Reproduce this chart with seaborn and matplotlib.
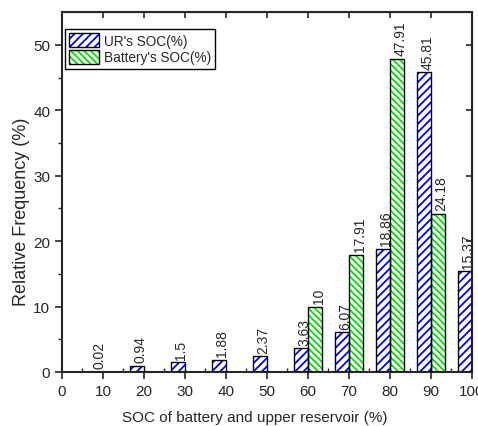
import matplotlib
matplotlib.use("Agg")
import matplotlib.pyplot as plt
import seaborn as sns
import pandas as pd
import numpy as np
from matplotlib.patches import Patch, Rectangle
from matplotlib.legend_handler import HandlerTuple

# SOC bins (%)
soc_bins = [10, 20, 30, 40, 50, 60, 70, 80, 90, 100]
ur_soc = [0.02, 0.94, 1.5, 1.88, 2.37, 3.63, 6.07, 18.86, 45.81, 15.37]
battery_soc = [0, 0, 0, 0, 0, 10, 17.91, 47.91, 24.18, 0]
series_names = ["UR's SOC(%)", "Battery's SOC(%)"]
hatch_colors = ["#0000FF", "#00E000"]
hatches = ["////", "\\\\\\\\\\"]

df = pd.DataFrame({
    "SOC": soc_bins * 2,
    "freq": ur_soc + battery_soc,
    "series": [series_names[0]] * len(soc_bins) + [series_names[1]] * len(soc_bins),
})

sns.set_style("ticks")
plt.rcParams["font.family"] = ["Liberation Sans", "DejaVu Sans"]
plt.rcParams["hatch.linewidth"] = 1.3

fig = plt.figure(figsize=(4.78, 4.27), dpi=100)
ax = fig.add_axes([0.1297, 0.1265, 0.8577, 0.8424])

sns.barplot(data=df, x="SOC", y="freq", hue="series", native_scale=True,
            width=0.7, palette=["white", "white"], edgecolor="black",
            linewidth=0, legend=False, ax=ax, errorbar=None)

# hatch coloured, black outline drawn on top
n = len(soc_bins)
bars = [p for p in ax.patches]
for i, p in enumerate(bars):
    s = i // n
    p.set_edgecolor(hatch_colors[s])
    p.set_hatch(hatches[s])
    p.set_linewidth(0)
    val = df["freq"].iloc[i]
    if val > 0:
        ax.add_patch(Rectangle(p.get_xy(), p.get_width(), p.get_height(),
                               fill=False, edgecolor="black", linewidth=1.0, zorder=3))
        ax.annotate(f"{val:g}", (p.get_x() + p.get_width() / 2, p.get_height()),
                    xytext=(2.5, 2.5), textcoords="offset points", rotation=90,
                    ha="center", va="bottom", fontsize=10)

ax.set_xlim(0, 100)
ax.set_ylim(0, 55)
ax.set_xticks(np.arange(0, 101, 10))
ax.set_xticks(np.arange(5, 100, 10), minor=True)
ax.set_yticks(np.arange(0, 51, 10))
ax.set_yticks(np.arange(5, 55, 10), minor=True)
ax.tick_params(axis="both", which="major", direction="out", length=5, width=1.2, labelsize=11)
ax.tick_params(axis="y", which="minor", direction="out", length=3, width=1.0)
ax.tick_params(axis="x", which="minor", direction="in", length=3, width=1.0)
for sp in ax.spines.values():
    sp.set_linewidth(1.5)
    sp.set_visible(True)

top = ax.secondary_xaxis("top")
top.set_xticks(np.arange(0, 101, 10))
top.tick_params(direction="in", length=4, width=1.2, labeltop=False)
right = ax.secondary_yaxis("right")
right.set_yticks(np.arange(0, 51, 10))
right.tick_params(direction="in", length=4, width=1.2, labelright=False)

ax.set_xlabel("SOC of battery and upper reservoir (%)", fontsize=11)
ax.xaxis.set_label_coords(0.4695, -0.106)
ax.set_ylabel("Relative Frequency (%)", fontsize=13)
ax.yaxis.set_label_coords(-0.078, 0.447)

handles = []
for c, h in zip(hatch_colors, hatches):
    handles.append((Patch(facecolor="white", edgecolor=c, hatch=h, linewidth=0),
                    Patch(facecolor="none", edgecolor="black", linewidth=1.0)))
leg = ax.legend(handles, series_names, handler_map={tuple: HandlerTuple(ndivide=1, pad=0)},
                loc="upper left", bbox_to_anchor=(0.0073, 0.9528), fontsize=9.8,
                frameon=True, fancybox=False, framealpha=1, edgecolor="black",
                borderpad=0.3, handlelength=2.2, handleheight=1.19, handletextpad=0.37,
                labelspacing=0.15, borderaxespad=0)
leg.get_frame().set_linewidth(1.0)

fig.savefig("out.png", dpi=100)
